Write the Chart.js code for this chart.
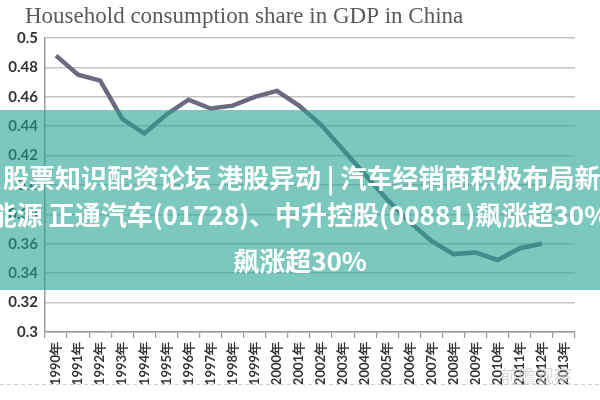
<!DOCTYPE html>
<html>
<head>
<meta charset="utf-8">
<script src="https://cdn.jsdelivr.net/npm/chart.js@4/dist/chart.umd.min.js"></script>
<style>
  html, body { margin: 0; padding: 0; background: #fff; }
  #wrap { width: 600px; height: 400px; }
</style>
</head>
<body>
<div id="wrap"><canvas id="share-chart" width="600" height="400"></canvas></div>
<script>
// Chart values
var years = ['1990年', '1991年', '1992年', '1993年', '1994年', '1995年', '1996年', '1997年',
             '1998年', '1999年', '2000年', '2001年', '2002年', '2003年', '2004年', '2005年',
             '2006年', '2007年', '2008年', '2009年', '2010年', '2011年', '2012年', '2013年'];
var shares = [0.488, 0.475, 0.471, 0.445, 0.435, 0.448, 0.458, 0.452,
              0.454, 0.460, 0.464, 0.454, 0.441, 0.424, 0.407, 0.390,
              0.375, 0.362, 0.353, 0.354, 0.349, 0.357, 0.360, null];
var yMin = 0.3;
var yMax = 0.5;
var yStep = 0.02;

var titleText = 'Household consumption share in GDP in China';
var bannerLines = [
    '股票知识配资论坛 港股异动 | 汽车经销商积极布局新',
    '能源 正通汽车(01728)、中升控股(00881)飙涨超30%',
    '飙涨超30%'
];

// Title, teal banner and watermark drawn on top of the chart
var decorPlugin = {
    id: 'decor',
    afterDraw: function(chart) {
        var ctx = chart.ctx;
        ctx.save();
        // title
        ctx.fillStyle = '#5a5a5a';
        ctx.font = '23px "Liberation Serif"';
        ctx.textBaseline = 'middle';
        ctx.textAlign = 'left';
        ctx.fillText(titleText, 25, 17);

        // dashed line under the labels
        ctx.strokeStyle = '#cfcfcf';
        ctx.lineWidth = 1;
        ctx.setLineDash([4, 3]);
        ctx.beginPath();
        ctx.moveTo(0, 384.5);
        ctx.lineTo(600, 384.5);
        ctx.stroke();
        ctx.setLineDash([]);

        // watermark
        ctx.fillStyle = 'rgba(200,200,200,0.7)';
        ctx.font = '18px "Noto Sans CJK SC"';
        ctx.fillText('前瞻观察', 500, 376);

        // teal banner
        ctx.fillStyle = 'rgba(38,163,147,0.6)';
        ctx.fillRect(0, 110, 600, 180);

        ctx.fillStyle = '#ffffff';
        ctx.font = 'bold 26px "Noto Sans CJK SC"';
        ctx.textAlign = 'left';
        ctx.fillText(bannerLines[0], 3, 178);
        ctx.textAlign = 'center';
        ctx.fillText(bannerLines[1], 300, 215);
        ctx.fillText(bannerLines[2], 300, 261);
        ctx.restore();
    }
};

var ctx = document.getElementById('share-chart').getContext('2d');
var shareChart = new Chart(ctx, {
    type: 'line',
    data: {
        labels: years,
        datasets: [{
            label: 'Household consumption share',
            data: shares,
            borderColor: '#6c6981',
            borderWidth: 4.5,
            pointRadius: 0,
            tension: 0,
            fill: false
        }]
    },
    options: {
        responsive: false,
        animation: false,
        layout: { padding: { top: 38, right: 25, left: 0, bottom: 0 } },
        plugins: {
            legend: { display: false },
            tooltip: { enabled: false }
        },
        scales: {
            x: {
                offset: true,
                grid: {
                    offset: true,
                    drawOnChartArea: false,
                    drawTicks: true,
                    tickLength: 6,
                    color: '#9a9a9a',
                    lineWidth: 1.2
                },
                border: { color: '#9a9a9a', width: 1.5 },
                ticks: {
                    autoSkip: false,
                    minRotation: 90,
                    maxRotation: 90,
                    padding: 4,
                    color: '#333',
                    font: { family: 'Lato', size: 13, weight: 'bold' }
                },
                afterFit: function(scale) { scale.height = 68; }
            },
            y: {
                min: yMin,
                max: yMax,
                ticks: {
                    stepSize: yStep,
                    padding: 7,
                    color: '#333',
                    font: { family: 'Lato', size: 15, weight: 'bold' },
                    callback: function(v) { return String(Number(v.toFixed(2))); }
                },
                grid: {
                    color: '#c4c4c4',
                    lineWidth: 1.5,
                    drawTicks: false
                },
                border: { color: '#9a9a9a', width: 1.5 },
                afterFit: function(scale) { scale.width = 45; }
            }
        }
    },
    plugins: [decorPlugin]
});
</script>
</body>
</html>
